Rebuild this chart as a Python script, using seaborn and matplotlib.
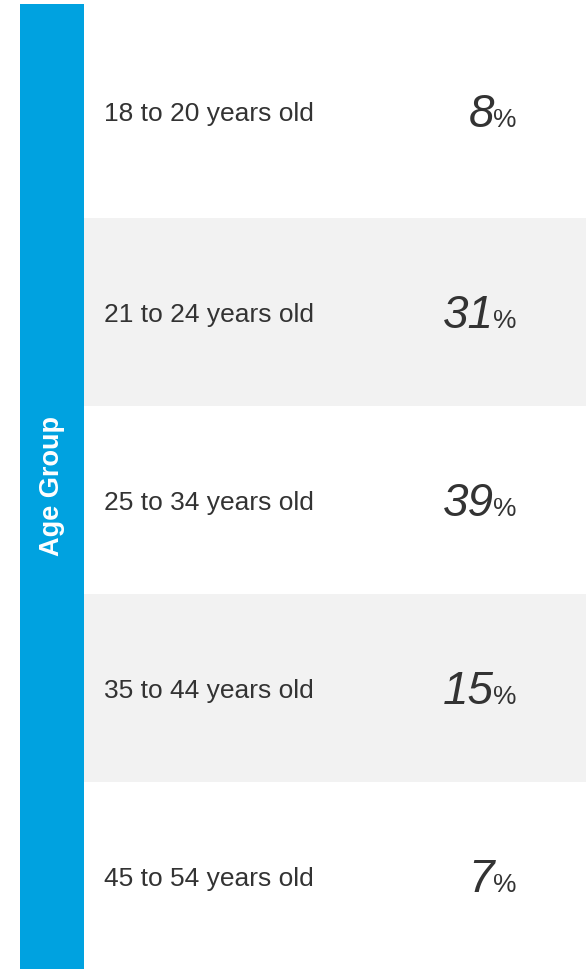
import matplotlib
matplotlib.use("Agg")
import matplotlib.pyplot as plt
import seaborn as sns

# ---- data ----
age_groups = ["18 to 20 years old", "21 to 24 years old", "25 to 34 years old",
              "35 to 44 years old", "45 to 54 years old"]
shares = [8, 31, 39, 15, 7]
side_title = "Age Group"

sns.set_theme(style="white")
plt.rcParams['font.family'] = ['Liberation Sans', 'DejaVu Sans']

W, H = 586, 969
fig = plt.figure(figsize=(W / 100, H / 100), dpi=100)
fig.patch.set_facecolor("white")

BLUE = "#00a2e0"
BAND = "#f2f2f2"
TXT = "#333333"

# pixel -> row-unit conversion (row k centred at 124 + 188k px)
ROW_PX = 188.0
def py(p):
    return (p - 124.0) / ROW_PX

ax = fig.add_axes([84 / W, 0, (W - 84) / W, 1])
ax.set_xlim(0, 1)
ax.set_ylim(py(H), py(0))
ax.axis("off")

def px(x):
    return (x - 84) / (W - 84)

for i, (lab, val) in enumerate(zip(age_groups, shares)):
    top = i - 0.5 if i > 0 else py(4)
    bot = i + 0.5
    if i % 2 == 1:
        ax.axhspan(top, bot, xmin=0, xmax=1, color=BAND, lw=0, zorder=0)
    yc = (top + bot) / 2
    ax.text(px(104), yc + 10 / ROW_PX, lab, ha="left", va="baseline",
            fontsize=19, color=TXT)
    yn = yc + 16 / ROW_PX
    ax.text(px(494), yn, f"{val}", ha="right", va="baseline",
            fontsize=33, fontstyle="italic", color=TXT)
    ax.text(px(493), yn, "%", ha="left", va="baseline",
            fontsize=19, color=TXT)

# blue side bar
bx = fig.add_axes([20 / W, 0, 64 / W, (H - 4) / H])
bx.set_facecolor(BLUE)
bx.set_xticks([]); bx.set_yticks([])
for s in bx.spines.values():
    s.set_visible(False)
bx.text(0.5, 0.5, side_title, rotation=90, ha="center", va="center",
        transform=bx.transAxes, color="white", fontsize=19.5, fontweight="bold")

fig.savefig("out.png", dpi=100, facecolor="white")
